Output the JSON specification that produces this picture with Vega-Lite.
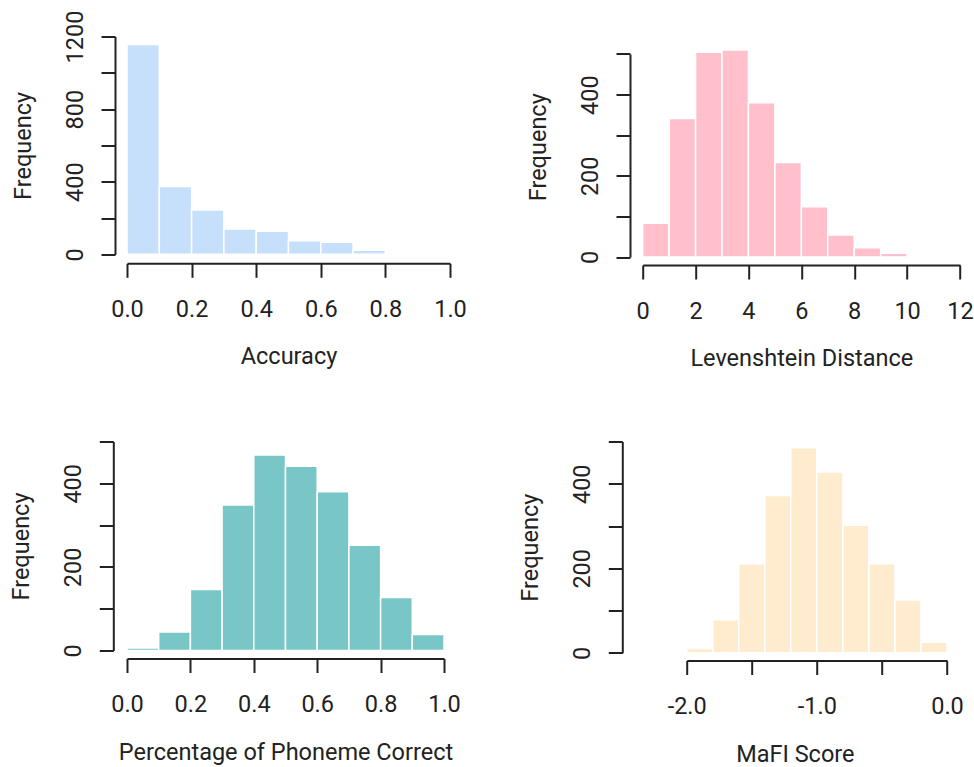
{
  "$schema": "https://vega.github.io/schema/vega-lite/v6.json",
  "autosize": "none",
  "padding": {"left": 127, "top": 36.5, "right": 847, "bottom": 730.5},
  "background": "white",
  "datasets": {
    "acc": [
      {"start": 0.0, "end": 0.1, "count": 1156},
      {"start": 0.1, "end": 0.2, "count": 373},
      {"start": 0.2, "end": 0.3, "count": 244},
      {"start": 0.3, "end": 0.4, "count": 140},
      {"start": 0.4, "end": 0.5, "count": 127},
      {"start": 0.5, "end": 0.6, "count": 75},
      {"start": 0.6, "end": 0.7, "count": 66},
      {"start": 0.7, "end": 0.8, "count": 22},
      {"start": 0.8, "end": 0.9, "count": 7}
    ],
    "lev": [
      {"start": 0, "end": 1, "count": 83},
      {"start": 1, "end": 2, "count": 341},
      {"start": 2, "end": 3, "count": 504},
      {"start": 3, "end": 4, "count": 510},
      {"start": 4, "end": 5, "count": 380},
      {"start": 5, "end": 6, "count": 233},
      {"start": 6, "end": 7, "count": 124},
      {"start": 7, "end": 8, "count": 54},
      {"start": 8, "end": 9, "count": 23},
      {"start": 9, "end": 10, "count": 9}
    ],
    "pho": [
      {"start": 0.0, "end": 0.1, "count": 6},
      {"start": 0.1, "end": 0.2, "count": 44},
      {"start": 0.2, "end": 0.3, "count": 146},
      {"start": 0.3, "end": 0.4, "count": 348},
      {"start": 0.4, "end": 0.5, "count": 468},
      {"start": 0.5, "end": 0.6, "count": 441},
      {"start": 0.6, "end": 0.7, "count": 380},
      {"start": 0.7, "end": 0.8, "count": 252},
      {"start": 0.8, "end": 0.9, "count": 127},
      {"start": 0.9, "end": 1.0, "count": 38}
    ],
    "mafi": [
      {"start": -2.2, "end": -2.0, "count": 2},
      {"start": -2.0, "end": -1.8, "count": 10},
      {"start": -1.8, "end": -1.6, "count": 78},
      {"start": -1.6, "end": -1.4, "count": 211},
      {"start": -1.4, "end": -1.2, "count": 372},
      {"start": -1.2, "end": -1.0, "count": 485},
      {"start": -1.0, "end": -0.8, "count": 428},
      {"start": -0.8, "end": -0.6, "count": 302},
      {"start": -0.6, "end": -0.4, "count": 211},
      {"start": -0.4, "end": -0.2, "count": 125},
      {"start": -0.2, "end": 0.0, "count": 25}
    ]
  },
  "columns": 2,
  "align": "each",
  "bounds": "flush",
  "spacing": {"row": 184, "column": 192.7},
  "concat": [
    {
      "width": 323, "height": 217.8,
      "data": {"name": "acc"},
      "mark": {"type": "rect", "fill": "#C6E0FC", "stroke": "white", "strokeWidth": 1.5},
      "encoding": {
        "x": {"field": "start", "type": "quantitative", "scale": {"domain": [0, 1], "nice": false, "zero": false},
              "axis": {"title": "Accuracy", "values": [0, 0.2, 0.4, 0.6, 0.8, 1], "format": ".1f", "offset": 9}},
        "x2": {"field": "end"},
        "y": {"field": "count", "type": "quantitative", "scale": {"domain": [0, 1200], "nice": false},
              "axis": {"title": "Frequency", "values": [0, 200, 400, 600, 800, 1000, 1200], "format": "d",
                       "labelExpr": "datum.value % 400 == 0 ? datum.label : ''", "offset": 12,
                       "labelAngle": -90, "labelAlign": "center", "labelBaseline": "alphabetic"}},
        "y2": {"datum": 0}
      }
    },
    {
      "width": 317.3, "height": 220.5,
      "data": {"name": "lev"},
      "mark": {"type": "rect", "fill": "#FFC0CB", "stroke": "white", "strokeWidth": 1.5},
      "encoding": {
        "x": {"field": "start", "type": "quantitative", "scale": {"domain": [0, 12], "nice": false, "zero": false},
              "axis": {"title": "Levenshtein Distance", "values": [0, 2, 4, 6, 8, 10, 12], "format": "d", "offset": 8}},
        "x2": {"field": "end"},
        "y": {"field": "count", "type": "quantitative", "scale": {"domain": [0, 543.1], "nice": false},
              "axis": {"title": "Frequency", "values": [0, 100, 200, 300, 400, 500], "format": "d",
                       "labelExpr": "datum.value % 200 == 0 ? datum.label : ''", "offset": 12.7,
                       "domainDash": [203, 1000],
                       "labelAngle": -90, "labelAlign": "center", "labelBaseline": "alphabetic"}},
        "y2": {"datum": 0}
      }
    },
    {
      "width": 317, "height": 209,
      "data": {"name": "pho"},
      "mark": {"type": "rect", "fill": "#78C6C6", "stroke": "white", "strokeWidth": 1.5},
      "encoding": {
        "x": {"field": "start", "type": "quantitative", "scale": {"domain": [0, 1], "nice": false, "zero": false},
              "axis": {"title": "Percentage of Phoneme Correct", "values": [0, 0.2, 0.4, 0.6, 0.8, 1], "format": ".1f", "offset": 8}},
        "x2": {"field": "end"},
        "y": {"field": "count", "type": "quantitative", "scale": {"domain": [0, 500], "nice": false},
              "axis": {"title": "Frequency", "values": [0, 100, 200, 300, 400, 500], "format": "d",
                       "labelExpr": "datum.value % 200 == 0 ? datum.label : ''", "offset": 13.7,
                       "labelAngle": -90, "labelAlign": "center", "labelBaseline": "alphabetic"}},
        "y2": {"datum": 0}
      }
    },
    {
      "width": 304.3, "height": 211.3,
      "data": {"name": "mafi"},
      "mark": {"type": "rect", "fill": "#FFEBCD", "stroke": "white", "strokeWidth": 1.5},
      "encoding": {
        "x": {"field": "start", "type": "quantitative", "scale": {"domain": [-2.3381, 0], "nice": false, "zero": false},
              "axis": {"title": "MaFI Score", "values": [-2, -1.5, -1, -0.5, 0], "offset": 7.7,
                       "domainDash": [0, 44, 261, 1000],
                       "labelExpr": "(datum.value == -1.5 || datum.value == -0.5) ? '' : replace(format(datum.value, '.1f'), '\u2212', '-')"}},
        "x2": {"field": "end"},
        "y": {"field": "count", "type": "quantitative", "scale": {"domain": [0, 500], "nice": false},
              "axis": {"title": "Frequency", "values": [0, 100, 200, 300, 400, 500], "format": "d",
                       "labelExpr": "datum.value % 200 == 0 ? datum.label : ''", "offset": 20.4,
                       "labelAngle": -90, "labelAlign": "center", "labelBaseline": "alphabetic"}},
        "y2": {"datum": 0}
      }
    }
  ],
  "config": {
    "view": {"stroke": null},
    "axis": {
      "grid": false,
      "domainColor": "#222", "domainWidth": 2,
      "tickColor": "#222", "tickWidth": 2, "tickSize": 14,
      "labelFont": "Roboto", "labelFontSize": 23.5, "labelColor": "#222",
      "titleFont": "Roboto", "titleFontSize": 23.5, "titleFontWeight": "normal", "titleColor": "#222",
      "labelFlush": false, "labelOverlap": false
    },
    "axisX": {"labelPadding": 20, "labelBaseline": "top", "labelAngle": 0, "titlePadding": 24},
    "axisY": {"labelPadding": 19, "titlePadding": 28}
  }
}
